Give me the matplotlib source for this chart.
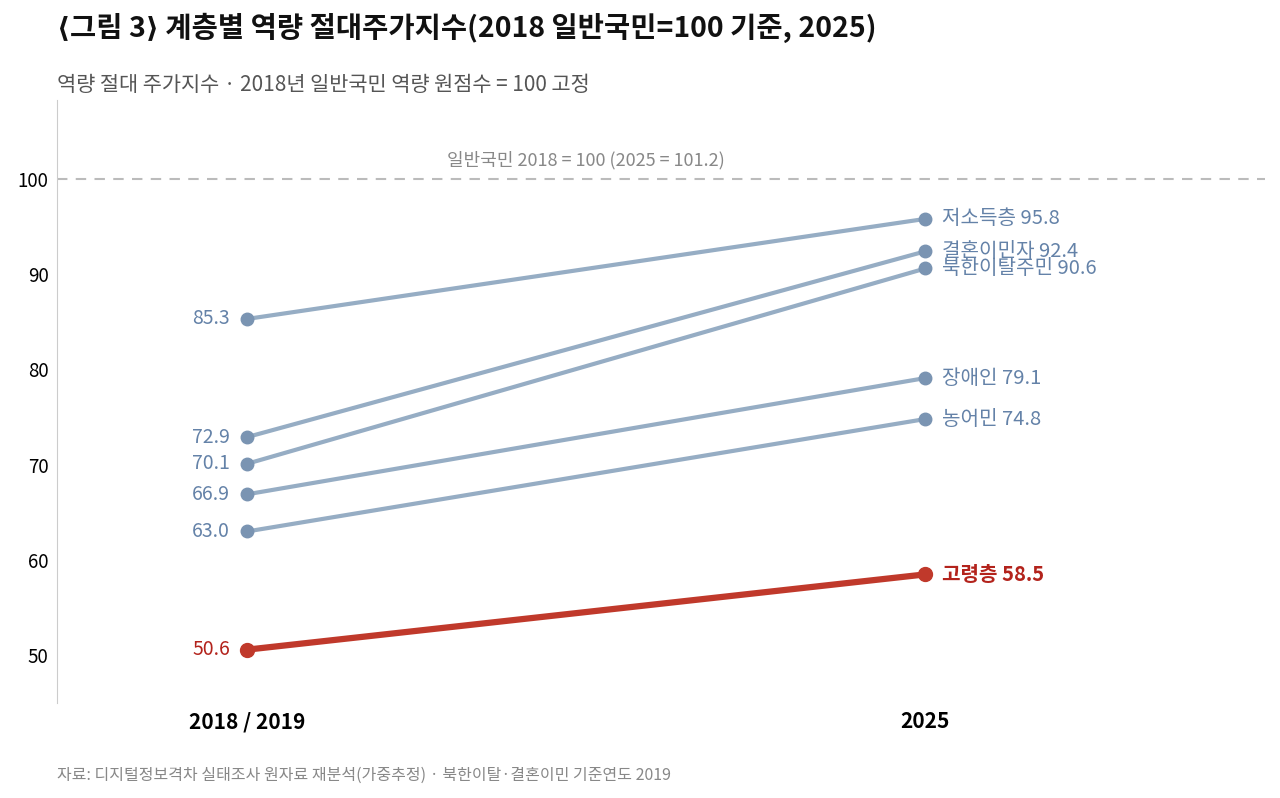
import matplotlib.pyplot as plt

plt.rcParams['font.family'] = ['Noto Sans CJK KR', 'DejaVu Sans']

groups = ['저소득층', '결혼이민자', '북한이탈주민', '장애인', '농어민', '고령층']
base = [85.3, 72.9, 70.1, 66.9, 63.0, 50.6]
latest = [95.8, 92.4, 90.6, 79.1, 74.8, 58.5]
periods = ['2018 / 2019', '2025']
highlight = '고령층'

line_blue = '#96adc4'
dot_blue = '#7a94b2'
text_blue = '#6482a8'
line_red = '#c0392b'
text_red = '#b3231c'

fig = plt.figure(figsize=(12.8, 7.98), dpi=100)
ax = fig.add_axes([0.0445, 0.119, 0.9435, 0.756])

for name, a, b in zip(groups, base, latest):
    if name == highlight:
        lc, dc, tc, lw, ms, fw = line_red, line_red, text_red, 4.5, 10, 'bold'
    else:
        lc, dc, tc, lw, ms, fw = line_blue, dot_blue, text_blue, 3, 9, 'normal'
    ax.plot([0, 1], [a, b], color=lc, lw=lw, solid_capstyle='round', zorder=2)
    ax.plot([0, 1], [a, b], 'o', color=dc, ms=ms, zorder=3)
    ax.text(-0.025, a, f'{a:.1f}', ha='right', va='center', fontsize=14, color=tc)
    ax.text(1.025, b, f'{name} {b:.1f}', ha='left', va='center', fontsize=14.5,
            color=tc, fontweight=fw)

# reference line for general population
ax.axhline(100, color='#bbbbbb', lw=1.5, ls=(0, (5, 4)), zorder=1)
ax.text(0.5, 101.0, '일반국민 2018 = 100 (2025 = 101.2)', ha='center', va='bottom',
        fontsize=13, color='#888888')

ax.set_xlim(-0.28, 1.5)
ax.set_ylim(45, 108.3)
ax.set_yticks([50, 60, 70, 80, 90, 100])
ax.set_xticks([0, 1])
ax.set_xticklabels(periods, fontsize=15, fontweight='bold')
ax.tick_params(axis='y', length=0, labelsize=13.5, pad=6)
ax.tick_params(axis='x', length=0, pad=6)
for s in ['top', 'right', 'bottom']:
    ax.spines[s].set_visible(False)
ax.spines['left'].set_color('#cccccc')

fig.text(0.0445, 0.965, '⟨그림 3⟩ 계층별 역량 절대주가지수(2018 일반국민=100 기준, 2025)',
         fontsize=20.5, fontweight='bold', ha='left', va='center', color='#111111')
fig.text(0.0445, 0.893, '역량 절대 주가지수 · 2018년 일반국민 역량 원점수 = 100 고정',
         fontsize=15, ha='left', va='center', color='#555555')
fig.text(0.0445, 0.029, '자료: 디지털정보격차 실태조사 원자료 재분석(가중추정) · 북한이탈·결혼이민 기준연도 2019',
         fontsize=11.5, ha='left', va='center', color='#888888')

fig.savefig('out.png', dpi=100)
